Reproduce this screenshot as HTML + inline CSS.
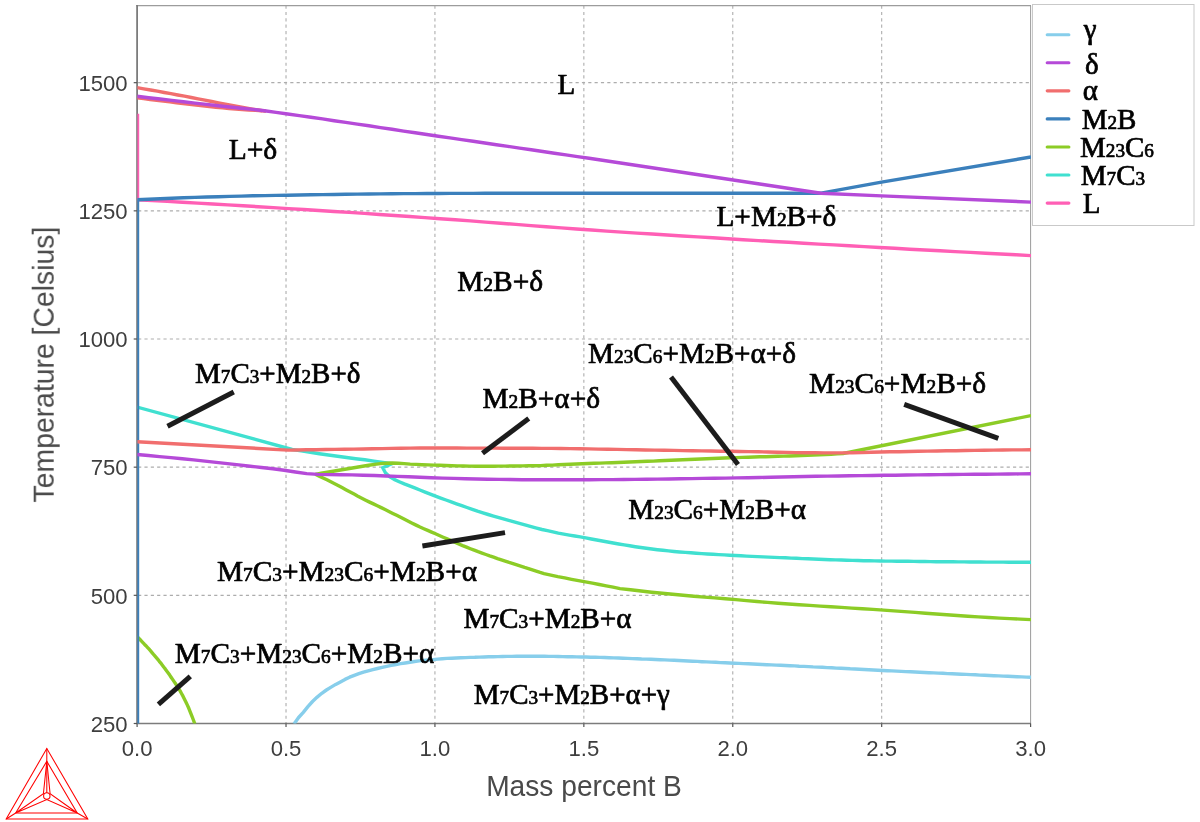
<!DOCTYPE html>
<html><head><meta charset="utf-8"><title>Phase diagram</title>
<style>html,body{margin:0;padding:0;background:#fff}svg{display:block}text{font-family:"Liberation Sans",sans-serif}.ph text,.ph{font-family:"Liberation Serif",serif;fill:#000}</style></head><body>
<svg width="1200" height="822" viewBox="0 0 1200 822">
<defs><clipPath id="pc"><rect x="137.4" y="5.6" width="893.60" height="717.90"/></clipPath></defs>
<rect width="1200" height="822" fill="#fff"/>
<g stroke="#adadad" stroke-width="1.1" stroke-dasharray="3.17,3.17" fill="none">
<line x1="286.02" y1="5.6" x2="286.02" y2="723.5"/>
<line x1="434.93" y1="5.6" x2="434.93" y2="723.5"/>
<line x1="583.85" y1="5.6" x2="583.85" y2="723.5"/>
<line x1="732.77" y1="5.6" x2="732.77" y2="723.5"/>
<line x1="881.68" y1="5.6" x2="881.68" y2="723.5"/>
<line x1="138.1" y1="595.33" x2="1030.6" y2="595.33"/>
<line x1="138.1" y1="467.17" x2="1030.6" y2="467.17"/>
<line x1="138.1" y1="339.00" x2="1030.6" y2="339.00"/>
<line x1="138.1" y1="210.84" x2="1030.6" y2="210.84"/>
<line x1="138.1" y1="82.67" x2="1030.6" y2="82.67"/>
</g>
<g fill="none" stroke-linecap="butt">
<path d="M136.2,5.699999999999999 H1031.0" stroke="#9c9c9c" stroke-width="1.2"/>
<path d="M1030.6,5.6 V723.5" stroke="#8f8f8f" stroke-width="0.9"/>
<path d="M137.1,5.1 V724.1" stroke="#7c7c7c" stroke-width="1.8"/>
<path d="M136.2,723.5 H1031.0" stroke="#7c7c7c" stroke-width="1.4"/>
<g stroke="#555" stroke-width="1.2">
<line x1="137.10" y1="723.5" x2="137.10" y2="727.1"/>
<line x1="286.02" y1="723.5" x2="286.02" y2="727.1"/>
<line x1="434.93" y1="723.5" x2="434.93" y2="727.1"/>
<line x1="583.85" y1="723.5" x2="583.85" y2="727.1"/>
<line x1="732.77" y1="723.5" x2="732.77" y2="727.1"/>
<line x1="881.68" y1="723.5" x2="881.68" y2="727.1"/>
<line x1="1030.60" y1="723.5" x2="1030.60" y2="727.1"/>
<line x1="133.70" y1="723.50" x2="137.1" y2="723.50"/>
<line x1="133.70" y1="595.33" x2="137.1" y2="595.33"/>
<line x1="133.70" y1="467.17" x2="137.1" y2="467.17"/>
<line x1="133.70" y1="339.00" x2="137.1" y2="339.00"/>
<line x1="133.70" y1="210.84" x2="137.1" y2="210.84"/>
<line x1="133.70" y1="82.67" x2="137.1" y2="82.67"/>
</g></g>
<g fill="none" stroke-width="3.4" stroke-linejoin="round" stroke-linecap="butt" clip-path="url(#pc)">
<path d="M137.5,113.8 L137.5,199.8" stroke="#ff5fb5"/>
<path d="M137.0,199.7 L152.2,200.5 L167.3,201.4 L182.5,202.2 L197.6,203.1 L212.8,204.0 L227.9,204.9 L243.1,205.8 L258.2,206.7 L273.4,207.6 L288.5,208.6 L303.7,209.5 L318.8,210.5 L334.0,211.5 L349.1,212.4 L364.3,213.4 L379.4,214.5 L394.6,215.5 L409.7,216.5 L424.9,217.6 L440.1,218.7 L455.2,219.8 L470.4,220.9 L485.5,222.1 L500.7,223.2 L515.8,224.4 L531.0,225.6 L546.1,226.8 L561.3,227.9 L576.4,229.0 L591.6,230.0 L606.7,231.1 L621.9,232.1 L637.0,233.1 L652.2,234.0 L667.3,235.0 L682.5,236.0 L697.6,236.9 L712.8,237.8 L727.9,238.8 L743.1,239.7 L758.3,240.6 L773.4,241.5 L788.6,242.3 L803.7,243.2 L818.9,244.1 L834.0,244.9 L849.2,245.8 L864.3,246.6 L879.5,247.5 L894.6,248.3 L909.8,249.2 L924.9,250.0 L940.1,250.8 L955.2,251.6 L970.4,252.4 L985.5,253.2 L1000.7,254.0 L1015.8,254.8 L1031.0,255.6" stroke="#ff5fb5"/>
<path d="M137.0,407.1 L292.2,449.5 L292.2,449.5 L301.3,450.9 L310.3,452.3 L319.4,453.7 L328.4,455.0 L337.5,456.3 L346.6,457.5 L355.7,458.7 L364.8,459.8 L373.9,461.1 L382.9,462.4 L392.0,463.7 L382.7,467.7 L385.4,472.7 L389.3,476.5 L394.1,479.4 L399.2,481.7 L404.3,483.9 L409.5,485.9 L414.7,487.9 L419.9,490.0 L425.1,492.1 L430.3,494.2 L435.5,496.2 L440.7,498.1 L446.0,500.0 L451.2,501.9 L456.5,503.8 L461.8,505.6 L467.0,507.5 L472.3,509.4 L477.5,511.2 L482.9,512.9 L488.2,514.5 L493.5,516.1 L498.9,517.7 L504.3,519.2 L509.6,520.7 L515.0,522.2 L520.4,523.7 L525.8,525.2 L531.2,526.7 L536.6,528.1 L542.0,529.5 L547.4,530.7 L552.9,531.9 L558.3,533.1 L563.8,534.1 L569.3,535.1 L574.8,536.0 L580.3,536.9 L585.8,537.9 L591.3,539.0 L596.8,540.0 L602.3,541.0 L607.7,542.0 L613.2,543.0 L618.7,544.0 L624.2,544.9 L629.7,545.8 L635.3,546.7 L640.8,547.5 L646.3,548.2 L651.9,549.0 L657.4,549.7 L662.9,550.3 L668.5,550.9 L674.0,551.5 L679.6,552.0 L685.2,552.4 L690.7,552.8 L696.3,553.2 L701.9,553.6 L707.4,554.0 L713.0,554.3 L718.6,554.6 L724.2,554.9 L729.7,555.2 L735.3,555.5 L740.9,555.8 L746.4,556.1 L752.0,556.4 L757.6,556.6 L763.2,556.9 L768.7,557.1 L774.3,557.4 L779.9,557.6 L785.5,557.8 L791.1,558.1 L796.6,558.3 L802.2,558.6 L807.8,558.8 L813.4,559.0 L818.9,559.3 L824.5,559.5 L830.1,559.7 L835.7,559.9 L841.2,560.0 L846.8,560.2 L852.4,560.4 L858.0,560.5 L863.6,560.7 L869.1,560.8 L874.7,560.9 L880.3,561.0 L885.9,561.1 L891.5,561.1 L897.0,561.2 L902.6,561.3 L908.2,561.3 L913.8,561.4 L919.4,561.5 L925.0,561.5 L930.5,561.6 L936.1,561.7 L941.7,561.7 L947.3,561.8 L952.9,561.8 L958.4,561.9 L964.0,561.9 L969.6,562.0 L975.2,562.0 L980.8,562.0 L986.3,562.1 L991.9,562.1 L997.5,562.1 L1003.1,562.1 L1008.7,562.2 L1014.3,562.2 L1019.8,562.2 L1025.4,562.2 L1031.0,562.2" stroke="#40e0d0"/>
<path d="M315.3,474.3 L321.2,473.2 L327.2,472.2 L333.1,471.2 L339.0,470.2 L344.9,469.3 L350.9,468.3 L356.8,467.3 L362.7,466.3 L368.7,465.3 L374.6,464.4 L380.5,463.6 L386.5,463.2 L392.4,463.0 L398.3,463.2 L404.2,463.6 L410.2,464.1 L416.1,464.4 L422.0,464.7 L428.0,464.9 L433.9,465.1 L439.8,465.3 L445.7,465.5 L451.7,465.7 L457.6,465.9 L463.5,466.0 L469.5,466.1 L475.4,466.2 L481.3,466.2 L487.2,466.2 L493.2,466.2 L499.1,466.1 L505.0,466.1 L511.0,466.0 L516.9,466.0 L522.8,465.9 L528.8,465.8 L534.7,465.7 L540.6,465.6 L546.5,465.3 L552.5,465.1 L558.4,464.8 L564.3,464.5 L570.3,464.3 L576.2,464.0 L582.1,463.7 L588.0,463.5 L594.0,463.3 L599.9,463.1 L605.8,462.9 L611.8,462.7 L617.7,462.5 L623.6,462.2 L629.5,462.0 L635.5,461.8 L641.4,461.5 L647.3,461.3 L653.3,461.1 L659.2,460.8 L665.1,460.5 L671.1,460.3 L677.0,460.0 L682.9,459.8 L688.8,459.5 L694.8,459.2 L700.7,459.0 L706.6,458.7 L712.6,458.5 L718.5,458.2 L724.4,458.0 L730.3,457.8 L736.3,457.6 L742.2,457.4 L748.1,457.2 L754.1,457.0 L760.0,456.8 L765.9,456.7 L771.8,456.5 L777.8,456.3 L783.7,456.1 L789.6,456.0 L795.6,455.8 L801.5,455.6 L807.4,455.4 L813.4,455.1 L819.3,454.9 L825.2,454.6 L831.1,454.3 L837.1,453.9 L843.0,453.5 L1031,415.6" stroke="#8ccc26"/>
<path d="M315.3,474.3 L319.2,476.1 L323.1,478.0 L326.9,479.8 L330.8,481.8 L334.7,483.7 L338.6,485.7 L342.4,487.8 L346.3,489.9 L350.2,492.0 L354.1,494.1 L357.9,496.2 L361.8,498.2 L365.7,500.2 L369.6,502.1 L373.4,503.9 L377.3,505.7 L381.2,507.6 L385.1,509.5 L388.9,511.4 L392.8,513.4 L396.7,515.3 L400.6,517.3 L404.5,519.3 L408.3,521.2 L412.2,523.2 L416.1,525.1 L420.0,527.0 L423.8,528.7 L427.7,530.4 L431.6,532.1 L435.5,533.8 L439.3,535.5 L443.2,537.2 L447.1,538.9 L451.0,540.6 L454.8,542.3 L458.7,544.0 L462.6,545.6 L466.5,547.1 L470.4,548.7 L474.2,550.2 L478.1,551.7 L482.0,553.1 L485.9,554.5 L489.7,555.9 L493.6,557.2 L497.5,558.6 L501.4,559.9 L505.2,561.1 L509.1,562.4 L513.0,563.6 L516.9,564.9 L520.7,566.1 L524.6,567.4 L528.5,568.6 L532.4,569.9 L536.2,571.1 L540.1,572.4 L544.0,573.6 L544.0,573.6 L550.9,575.1 L557.8,576.6 L564.7,577.9 L571.6,579.3 L578.5,580.6 L585.5,581.9 L592.4,583.2 L599.3,584.5 L606.2,585.8 L613.1,587.2 L620.0,588.6 L620.0,588.6 L630.5,589.8 L641.1,591.0 L651.6,592.2 L662.2,593.3 L672.7,594.3 L683.2,595.3 L693.8,596.2 L704.3,597.1 L714.8,597.9 L725.4,598.8 L735.9,599.6 L746.5,600.6 L757.0,601.5 L767.5,602.4 L778.1,603.3 L788.6,604.0 L799.2,604.7 L809.7,605.4 L820.2,606.1 L830.8,606.7 L841.3,607.4 L851.8,608.1 L862.4,608.7 L872.9,609.4 L883.5,610.1 L894.0,610.9 L904.5,611.6 L915.1,612.4 L925.6,613.2 L936.2,614.0 L946.7,614.8 L957.2,615.5 L967.8,616.2 L978.3,616.9 L988.8,617.5 L999.4,618.1 L1009.9,618.6 L1020.5,619.1 L1031.0,619.6" stroke="#8ccc26"/>
<path d="M137.0,636.4 L138.5,638.0 L140.0,639.5 L141.5,641.1 L142.9,642.6 L144.4,644.2 L145.9,645.7 L147.4,647.3 L148.9,648.9 L150.4,650.6 L151.8,652.3 L153.3,654.1 L154.8,655.8 L156.3,657.6 L157.8,659.4 L159.3,661.3 L160.8,663.1 L162.2,665.0 L163.7,667.0 L165.2,668.9 L166.7,671.0 L168.2,673.0 L169.7,675.1 L171.1,677.2 L172.6,679.4 L174.1,681.6 L175.6,683.8 L177.1,686.1 L178.6,688.4 L180.1,690.9 L181.5,693.5 L183.0,696.2 L184.5,699.2 L186.0,702.2 L187.5,705.4 L189.0,708.8 L190.4,712.4 L191.9,716.1 L193.4,720.0 L194.9,724.0" stroke="#8ccc26"/>
<path d="M137.5,724.0 L137.5,199.8" stroke="#3b80bc"/>
<path d="M137.0,199.8 L148.6,199.2 L160.2,198.7 L171.8,198.2 L183.4,197.8 L195.0,197.4 L206.6,197.0 L218.2,196.7 L229.7,196.4 L241.3,196.1 L252.9,195.8 L264.5,195.6 L276.1,195.4 L287.7,195.2 L299.3,195.0 L310.9,194.8 L322.5,194.6 L334.1,194.5 L345.7,194.3 L357.3,194.1 L368.9,194.0 L380.5,193.9 L392.1,193.7 L403.6,193.6 L415.2,193.6 L426.8,193.5 L438.4,193.5 L450.0,193.4 L461.6,193.4 L473.2,193.4 L484.8,193.3 L496.4,193.3 L508.0,193.3 L519.6,193.3 L531.2,193.2 L542.8,193.2 L554.4,193.2 L565.9,193.2 L577.5,193.2 L589.1,193.2 L600.7,193.2 L612.3,193.2 L623.9,193.2 L635.5,193.2 L647.1,193.2 L658.7,193.2 L670.3,193.2 L681.9,193.2 L693.5,193.2 L705.1,193.2 L716.7,193.2 L728.3,193.2 L739.8,193.2 L751.4,193.2 L763.0,193.2 L774.6,193.2 L786.2,193.2 L797.8,193.2 L809.4,193.2 L821.0,193.2 L881.5,182.2 L1031,157" stroke="#3b80bc"/>
<path d="M137.0,87.6 L143.8,88.8 L150.6,90.0 L157.4,91.2 L164.2,92.5 L170.9,93.7 L177.7,95.0 L184.5,96.2 L191.3,97.5 L198.1,98.8 L204.9,100.2 L211.7,101.5 L218.5,102.8 L225.3,104.1 L232.1,105.3 L238.8,106.6 L245.6,107.9 L252.4,109.1 L259.2,110.2 L266.0,111.2" stroke="#f16e6e"/>
<path d="M137.0,97.8 L143.6,98.6 L150.2,99.5 L156.7,100.3 L163.3,101.1 L169.9,101.9 L176.5,102.7 L183.1,103.5 L189.6,104.3 L196.2,105.1 L202.8,105.8 L209.4,106.6 L215.9,107.3 L222.5,107.9 L229.1,108.5 L235.7,109.0 L242.3,109.5 L248.8,110.0 L255.4,110.4 L262.0,110.8" stroke="#f16e6e"/>
<path d="M137.0,441.7 L288,450.1 L288.0,450.1 L297.4,450.0 L306.8,449.8 L316.2,449.7 L325.6,449.5 L335.0,449.4 L344.4,449.2 L353.8,449.1 L363.2,449.0 L372.6,448.8 L382.1,448.6 L391.5,448.4 L400.9,448.3 L410.3,448.1 L419.7,448.0 L429.1,448.0 L438.5,448.0 L447.9,448.0 L457.3,448.0 L466.7,448.1 L476.1,448.1 L485.5,448.1 L494.9,448.1 L504.3,448.2 L513.7,448.2 L523.1,448.3 L532.5,448.3 L541.9,448.4 L551.3,448.4 L560.7,448.5 L570.2,448.6 L579.6,448.8 L589.0,448.9 L598.4,449.1 L607.8,449.2 L617.2,449.4 L626.6,449.6 L636.0,449.8 L645.4,450.0 L654.8,450.1 L664.2,450.3 L673.6,450.4 L683.0,450.6 L692.4,450.7 L701.8,450.9 L711.2,451.0 L720.6,451.2 L730.0,451.3 L739.4,451.5 L748.8,451.6 L758.3,451.8 L767.7,452.0 L777.1,452.2 L786.5,452.4 L795.9,452.6 L805.3,452.7 L814.7,452.8 L824.1,452.9 L833.5,452.9 L842.9,452.9 L852.3,452.8 L861.7,452.6 L871.1,452.3 L880.5,452.0 L889.9,451.8 L899.3,451.7 L908.7,451.5 L918.1,451.3 L927.5,451.1 L936.9,451.0 L946.4,450.8 L955.8,450.7 L965.2,450.5 L974.6,450.4 L984.0,450.3 L993.4,450.1 L1002.8,450.0 L1012.2,449.9 L1021.6,449.9 L1031.0,449.8" stroke="#f16e6e"/>
<path d="M137.0,96.3 L148.6,97.7 L160.2,99.0 L171.8,100.4 L183.4,101.7 L195.0,103.1 L206.6,104.4 L218.2,105.7 L229.7,107.0 L241.3,108.2 L252.9,109.4 L264.5,110.8 L276.1,112.4 L287.7,114.0 L299.3,115.6 L310.9,117.3 L322.5,118.9 L334.1,120.7 L345.7,122.4 L357.3,124.1 L368.9,125.8 L380.5,127.6 L392.1,129.3 L403.6,131.1 L415.2,132.8 L426.8,134.5 L438.4,136.2 L450.0,137.9 L461.6,139.6 L473.2,141.3 L484.8,143.0 L496.4,144.7 L508.0,146.4 L519.6,148.1 L531.2,149.8 L542.8,151.5 L554.4,153.2 L565.9,154.9 L577.5,156.6 L589.1,158.3 L600.7,160.0 L612.3,161.8 L623.9,163.5 L635.5,165.2 L647.1,167.0 L658.7,168.7 L670.3,170.5 L681.9,172.2 L693.5,174.0 L705.1,175.7 L716.7,177.5 L728.3,179.2 L739.8,181.0 L751.4,182.7 L763.0,184.5 L774.6,186.2 L786.2,188.0 L797.8,189.7 L809.4,191.5 L821.0,193.2 L881.5,195.9 L1031,202.1" stroke="#b54ad8"/>
<path d="M137.0,454.5 L148.3,455.5 L159.6,456.6 L170.9,457.6 L182.3,458.8 L193.6,459.9 L204.9,461.1 L216.2,462.4 L227.5,463.6 L238.8,464.9 L250.2,466.2 L261.5,467.5 L272.8,468.8 L284.1,470.2 L295.4,472.0 L306.7,473.6 L318.1,474.4 L329.4,474.6 L340.7,474.8 L352.0,474.9 L363.3,475.2 L374.6,475.5 L386.0,476.0 L397.3,476.4 L408.6,476.8 L419.9,477.3 L431.2,477.7 L442.5,478.1 L453.9,478.4 L465.2,478.7 L476.5,479.0 L487.8,479.2 L499.1,479.4 L510.4,479.5 L521.8,479.7 L533.1,479.7 L544.4,479.7 L555.7,479.7 L567.0,479.7 L578.3,479.7 L589.7,479.7 L601.0,479.6 L612.3,479.6 L623.6,479.5 L634.9,479.4 L646.2,479.2 L657.6,479.1 L668.9,479.0 L680.2,478.8 L691.5,478.6 L702.8,478.4 L714.1,478.3 L725.5,478.1 L736.8,477.9 L748.1,477.7 L759.4,477.5 L770.7,477.2 L782.0,477.0 L793.4,476.8 L804.7,476.5 L816.0,476.3 L827.3,476.1 L838.6,476.0 L849.9,475.8 L861.3,475.6 L872.6,475.5 L883.9,475.3 L895.2,475.2 L906.5,475.0 L917.8,474.9 L929.2,474.8 L940.5,474.6 L951.8,474.5 L963.1,474.4 L974.4,474.3 L985.7,474.2 L997.1,474.1 L1008.4,474.0 L1019.7,473.9 L1031.0,473.8" stroke="#b54ad8"/>
<path d="M294.0,724.0 L298.6,717.5 L303.3,712.3 L307.9,706.7 L312.5,701.5 L317.2,697.1 L321.8,693.3 L326.4,690.0 L331.1,687.1 L335.7,684.4 L340.4,681.9 L345.0,679.4 L349.6,677.2 L354.3,675.3 L358.9,673.6 L363.5,672.1 L368.2,670.8 L372.8,669.6 L377.4,668.5 L382.1,667.4 L386.7,666.3 L391.3,665.4 L396.0,664.5 L400.6,663.7 L405.2,663.0 L409.9,662.2 L414.5,661.5 L419.2,660.9 L423.8,660.4 L428.4,660.0 L433.1,659.6 L437.7,659.1 L442.3,658.7 L447.0,658.4 L451.6,658.2 L456.2,658.0 L460.9,657.8 L465.5,657.6 L470.1,657.4 L474.8,657.3 L479.4,657.1 L484.0,657.0 L488.7,656.8 L493.3,656.7 L497.9,656.6 L502.6,656.5 L507.2,656.4 L511.9,656.4 L516.5,656.3 L521.1,656.3 L525.8,656.3 L530.4,656.3 L535.0,656.3 L539.7,656.3 L544.3,656.3 L548.9,656.4 L553.6,656.4 L558.2,656.5 L562.8,656.6 L567.5,656.7 L572.1,656.8 L576.7,656.9 L581.4,657.0 L586.0,657.0 L590.7,657.2 L595.3,657.3 L599.9,657.4 L604.6,657.5 L609.2,657.7 L613.8,657.9 L618.5,658.0 L623.1,658.2 L627.7,658.4 L632.4,658.6 L637.0,658.8 L641.6,659.0 L646.3,659.1 L650.9,659.3 L655.5,659.5 L660.2,659.7 L664.8,659.9 L669.5,660.1 L674.1,660.3 L678.7,660.5 L683.4,660.8 L688.0,661.0 L692.6,661.2 L697.3,661.4 L701.9,661.7 L706.5,661.9 L711.2,662.1 L715.8,662.3 L720.4,662.6 L725.1,662.8 L729.7,663.0 L734.3,663.2 L739.0,663.4 L743.6,663.6 L748.3,663.8 L752.9,664.0 L757.5,664.2 L762.2,664.5 L766.8,664.7 L771.4,664.9 L776.1,665.1 L780.7,665.3 L785.3,665.5 L790.0,665.7 L794.6,665.9 L799.2,666.2 L803.9,666.4 L808.5,666.6 L813.1,666.9 L817.8,667.1 L822.4,667.3 L827.1,667.6 L831.7,667.8 L836.3,668.1 L841.0,668.3 L845.6,668.5 L850.2,668.8 L854.9,669.0 L859.5,669.3 L864.1,669.5 L868.8,669.8 L873.4,670.0 L878.0,670.2 L882.7,670.5 L887.3,670.7 L891.9,670.9 L896.6,671.1 L901.2,671.4 L905.8,671.6 L910.5,671.8 L915.1,672.0 L919.8,672.2 L924.4,672.5 L929.0,672.7 L933.7,672.9 L938.3,673.1 L942.9,673.3 L947.6,673.6 L952.2,673.8 L956.8,674.0 L961.5,674.2 L966.1,674.4 L970.7,674.6 L975.4,674.8 L980.0,675.1 L984.6,675.3 L989.3,675.5 L993.9,675.7 L998.6,675.9 L1003.2,676.1 L1007.8,676.3 L1012.5,676.5 L1017.1,676.7 L1021.7,676.9 L1026.4,677.1 L1031.0,677.3" stroke="#87ceeb"/>
</g>
<g stroke="#1c1c1c" stroke-width="5" stroke-linecap="butt">
<line x1="167.5" y1="426.25" x2="233.75" y2="392"/>
<line x1="482.5" y1="453.2" x2="528.75" y2="418.6"/>
<line x1="422.4" y1="546" x2="505" y2="532.6"/>
<line x1="671" y1="377" x2="738" y2="464.5"/>
<line x1="904.2" y1="404.3" x2="998.3" y2="438.3"/>
<line x1="158.4" y1="704.4" x2="190.3" y2="676.3"/>
</g>
<g opacity="0.999">
<text transform="translate(137.10,755.6) scale(0.975,1)" font-size="22.7" fill="#3e3e3e" text-anchor="middle">0.0</text>
<text transform="translate(286.02,755.6) scale(0.975,1)" font-size="22.7" fill="#3e3e3e" text-anchor="middle">0.5</text>
<text transform="translate(434.93,755.6) scale(0.975,1)" font-size="22.7" fill="#3e3e3e" text-anchor="middle">1.0</text>
<text transform="translate(583.85,755.6) scale(0.975,1)" font-size="22.7" fill="#3e3e3e" text-anchor="middle">1.5</text>
<text transform="translate(732.77,755.6) scale(0.975,1)" font-size="22.7" fill="#3e3e3e" text-anchor="middle">2.0</text>
<text transform="translate(881.68,755.6) scale(0.975,1)" font-size="22.7" fill="#3e3e3e" text-anchor="middle">2.5</text>
<text transform="translate(1030.60,755.6) scale(0.975,1)" font-size="22.7" fill="#3e3e3e" text-anchor="middle">3.0</text>
<text transform="translate(127.6,731.80) scale(0.975,1)" font-size="22.7" fill="#3e3e3e" text-anchor="end">250</text>
<text transform="translate(127.6,603.63) scale(0.975,1)" font-size="22.7" fill="#3e3e3e" text-anchor="end">500</text>
<text transform="translate(127.6,475.47) scale(0.975,1)" font-size="22.7" fill="#3e3e3e" text-anchor="end">750</text>
<text transform="translate(127.6,347.30) scale(0.975,1)" font-size="22.7" fill="#3e3e3e" text-anchor="end">1000</text>
<text transform="translate(127.6,219.14) scale(0.975,1)" font-size="22.7" fill="#3e3e3e" text-anchor="end">1250</text>
<text transform="translate(127.6,90.97) scale(0.975,1)" font-size="22.7" fill="#3e3e3e" text-anchor="end">1500</text>
<text transform="translate(584,796.2) scale(0.975,1)" font-size="28.9" fill="#4a4a4a" text-anchor="middle">Mass percent B</text>
<text transform="translate(53.7,364.6) rotate(-90) scale(0.975,1)" font-size="29.1" fill="#4a4a4a" text-anchor="middle">Temperature [Celsius]</text>
<g class="ph" font-size="29" stroke="#000" stroke-width="0.7" stroke-linejoin="round">
<text x="557.5" y="93.75">L</text>
<text x="228.7" y="159.1" textLength="48.6" lengthAdjust="spacingAndGlyphs">L+δ</text>
<text x="716.5" y="225.8" textLength="119.9" lengthAdjust="spacingAndGlyphs">L+M<tspan font-size="19.2">2</tspan>B+δ</text>
<text x="457.2" y="291" textLength="85.9" lengthAdjust="spacingAndGlyphs">M<tspan font-size="19.2">2</tspan>B+δ</text>
<text x="195" y="383">M<tspan font-size="19.2">7</tspan>C<tspan font-size="19.2">3</tspan>+M<tspan font-size="19.2">2</tspan>B+δ</text>
<text x="482.5" y="408.1" textLength="117.6" lengthAdjust="spacingAndGlyphs">M<tspan font-size="19.2">2</tspan>B+α+δ</text>
<text x="588" y="362.6" textLength="208" lengthAdjust="spacingAndGlyphs">M<tspan font-size="19.2">23</tspan>C<tspan font-size="19.2">6</tspan>+M<tspan font-size="19.2">2</tspan>B+α+δ</text>
<text x="809.1" y="392.5" textLength="177.0" lengthAdjust="spacingAndGlyphs">M<tspan font-size="19.2">23</tspan>C<tspan font-size="19.2">6</tspan>+M<tspan font-size="19.2">2</tspan>B+δ</text>
<text x="628.3" y="519.4" textLength="177.8" lengthAdjust="spacingAndGlyphs">M<tspan font-size="19.2">23</tspan>C<tspan font-size="19.2">6</tspan>+M<tspan font-size="19.2">2</tspan>B+α</text>
<text x="216.9" y="580.6" textLength="260.2" lengthAdjust="spacingAndGlyphs">M<tspan font-size="19.2">7</tspan>C<tspan font-size="19.2">3</tspan>+M<tspan font-size="19.2">23</tspan>C<tspan font-size="19.2">6</tspan>+M<tspan font-size="19.2">2</tspan>B+α</text>
<text x="463.4" y="628.4" textLength="168.3" lengthAdjust="spacingAndGlyphs">M<tspan font-size="19.2">7</tspan>C<tspan font-size="19.2">3</tspan>+M<tspan font-size="19.2">2</tspan>B+α</text>
<text x="174.8" y="662.6" textLength="259.6" lengthAdjust="spacingAndGlyphs">M<tspan font-size="19.2">7</tspan>C<tspan font-size="19.2">3</tspan>+M<tspan font-size="19.2">23</tspan>C<tspan font-size="19.2">6</tspan>+M<tspan font-size="19.2">2</tspan>B+α</text>
<text x="473.75" y="703.75">M<tspan font-size="19.2">7</tspan>C<tspan font-size="19.2">3</tspan>+M<tspan font-size="19.2">2</tspan>B+α+γ</text>
</g>
<rect x="1032.5" y="4.5" width="161.5" height="221" fill="#fff" stroke="#c9c9c9" stroke-width="1"/>
<g class="ph" font-size="29" stroke-linejoin="round">
<line x1="1047.2" y1="34.70" x2="1068.9" y2="34.70" stroke="#87ceeb" stroke-width="3.1" stroke-linecap="round"/>
<text x="1083.80" y="39.10" stroke="#000" stroke-width="0.7">γ</text>
<line x1="1047.2" y1="62.77" x2="1068.9" y2="62.77" stroke="#b54ad8" stroke-width="3.1" stroke-linecap="round"/>
<text x="1084.90" y="74.47" stroke="#000" stroke-width="0.7">δ</text>
<line x1="1047.2" y1="90.84" x2="1068.9" y2="90.84" stroke="#f16e6e" stroke-width="3.1" stroke-linecap="round"/>
<text x="1082.80" y="100.24" stroke="#000" stroke-width="0.7">α</text>
<line x1="1047.2" y1="118.91" x2="1068.9" y2="118.91" stroke="#3b80bc" stroke-width="3.1" stroke-linecap="round"/>
<text x="1081.70" y="128.51" stroke="#000" stroke-width="0.7">M<tspan font-size="19.2">2</tspan>B</text>
<line x1="1047.2" y1="146.98" x2="1068.9" y2="146.98" stroke="#8ccc26" stroke-width="3.1" stroke-linecap="round"/>
<text x="1080.00" y="156.58" stroke="#000" stroke-width="0.7">M<tspan font-size="19.2">23</tspan>C<tspan font-size="19.2">6</tspan></text>
<line x1="1047.2" y1="175.05" x2="1068.9" y2="175.05" stroke="#40e0d0" stroke-width="3.1" stroke-linecap="round"/>
<text x="1080.80" y="184.65" stroke="#000" stroke-width="0.7">M<tspan font-size="19.2">7</tspan>C<tspan font-size="19.2">3</tspan></text>
<line x1="1047.2" y1="203.12" x2="1068.9" y2="203.12" stroke="#ff5fb5" stroke-width="3.1" stroke-linecap="round"/>
<text x="1082.80" y="212.72" stroke="#000" stroke-width="0.7">L</text>
</g>
</g>
<g fill="none" stroke="#ff0000" stroke-width="1.05" stroke-linejoin="miter">
<path d="M46.8,748.5 L6.2,819 L87.8,819 Z"/>
<path d="M46.8,761.3 L15.7,813 L77.2,813 Z"/>
<path d="M46.8,748.5 V761.3 M6.2,819 L15.7,813 M87.8,819 L77.2,813"/>
<path d="M46.8,761.3 L43.4,793.8 L15.7,813 L46.8,799.6 L77.2,813 L50.1,793.8 Z"/>
<path d="M46.8,761.3 V793"/>
<circle cx="46.8" cy="796" r="3.2"/>
</g>
</svg></body></html>
